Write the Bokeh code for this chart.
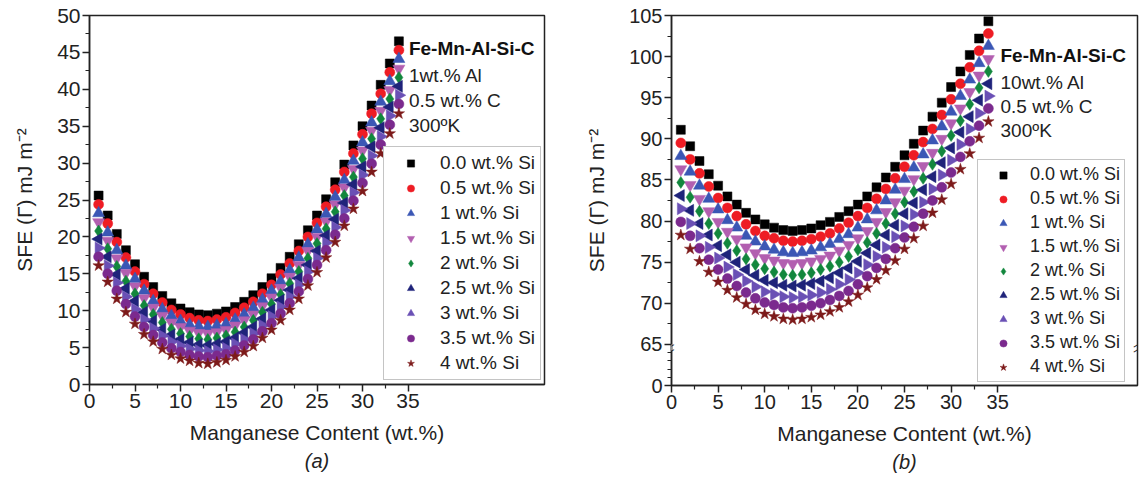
from bokeh.plotting import figure
from bokeh.layouts import row
from bokeh.models import FixedTicker, Range1d, Legend, LegendItem, Label, Title
from bokeh.embed import file_html
from bokeh.resources import INLINE
import math

# ---------------- data ----------------
mn_content = list(range(1, 35))
si_labels = ["0.0 wt.% Si", "0.5 wt.% Si", "1 wt.% Si", "1.5 wt.% Si", "2 wt.% Si",
             "2.5 wt.% Si", "3 wt.% Si", "3.5 wt.% Si", "4 wt.% Si"]
x_ticks = [0, 5, 10, 15, 20, 25, 30, 35]

# (a) 1 wt.% Al
a_si00 = [25.6, 22.9, 20.4, 18.2, 16.3, 14.6, 13.2, 12.0, 11.0, 10.3, 9.8, 9.5, 9.4, 9.6, 9.9, 10.5, 11.2, 12.1, 13.2, 14.4, 15.8, 17.3, 19.0, 20.9, 22.9, 25.1, 27.4, 29.8, 32.4, 35.0, 37.8, 40.6, 43.5, 46.5]
a_si05 = [24.4, 21.8, 19.3, 17.2, 15.3, 13.6, 12.3, 11.1, 10.1, 9.5, 9.0, 8.7, 8.6, 8.8, 9.1, 9.7, 10.4, 11.2, 12.3, 13.5, 14.9, 16.4, 18.1, 20.0, 21.9, 24.1, 26.4, 28.8, 31.3, 33.9, 36.7, 39.4, 42.3, 45.3]
a_si10 = [23.2, 20.6, 18.2, 16.1, 14.3, 12.7, 11.3, 10.2, 9.3, 8.6, 8.1, 7.9, 7.8, 8.0, 8.2, 8.8, 9.5, 10.4, 11.5, 12.7, 14.0, 15.5, 17.2, 19.0, 21.0, 23.1, 25.4, 27.7, 30.3, 32.8, 35.5, 38.3, 41.1, 44.1]
a_si15 = [22.0, 19.5, 17.1, 15.1, 13.3, 11.7, 10.4, 9.3, 8.4, 7.8, 7.3, 7.0, 6.9, 7.1, 7.4, 8.0, 8.7, 9.5, 10.6, 11.8, 13.1, 14.6, 16.2, 18.1, 20.0, 22.1, 24.4, 26.7, 29.2, 31.7, 34.4, 37.1, 39.9, 42.8]
a_si20 = [20.8, 18.4, 16.0, 14.0, 12.3, 10.7, 9.5, 8.4, 7.5, 6.9, 6.5, 6.2, 6.1, 6.3, 6.6, 7.1, 7.8, 8.7, 9.8, 10.9, 12.2, 13.7, 15.3, 17.1, 19.1, 21.1, 23.4, 25.6, 28.1, 30.6, 33.3, 36.0, 38.7, 41.6]
a_si25 = [19.7, 17.3, 14.9, 13.0, 11.3, 9.8, 8.6, 7.5, 6.7, 6.1, 5.7, 5.4, 5.3, 5.5, 5.8, 6.3, 7.0, 7.8, 8.9, 10.1, 11.4, 12.8, 14.4, 16.2, 18.1, 20.2, 22.4, 24.6, 27.1, 29.5, 32.2, 34.8, 37.6, 40.4]
a_si30 = [18.5, 16.1, 13.8, 11.9, 10.2, 8.8, 7.6, 6.6, 5.8, 5.2, 4.8, 4.6, 4.5, 4.7, 4.9, 5.5, 6.1, 6.9, 8.0, 9.2, 10.5, 11.9, 13.5, 15.3, 17.1, 19.2, 21.3, 23.6, 26.0, 28.4, 31.0, 33.6, 36.4, 39.2]
a_si35 = [17.3, 15.0, 12.7, 10.9, 9.2, 7.8, 6.7, 5.7, 4.9, 4.4, 4.0, 3.8, 3.7, 3.9, 4.1, 4.6, 5.3, 6.1, 7.2, 8.3, 9.6, 11.0, 12.6, 14.3, 16.2, 18.2, 20.3, 22.5, 24.9, 27.3, 29.9, 32.5, 35.2, 38.0]
a_si40 = [16.1, 13.9, 11.6, 9.8, 8.2, 6.8, 5.8, 4.8, 4.0, 3.5, 3.2, 2.9, 2.8, 3.0, 3.3, 3.8, 4.4, 5.2, 6.3, 7.4, 8.7, 10.1, 11.6, 13.4, 15.2, 17.2, 19.3, 21.5, 23.8, 26.2, 28.8, 31.3, 34.0, 36.7]

# (b) 10 wt.% Al
b_si00 = [91.1, 89.1, 87.3, 85.7, 84.3, 83.0, 82.0, 81.0, 80.2, 79.6, 79.2, 78.9, 78.8, 78.9, 79.1, 79.5, 79.9, 80.5, 81.2, 82.0, 83.0, 84.1, 85.3, 86.6, 88.0, 89.4, 91.0, 92.7, 94.4, 96.3, 98.2, 100.2, 102.2, 104.3]
b_si05 = [89.5, 87.5, 85.8, 84.2, 82.8, 81.6, 80.6, 79.6, 78.8, 78.2, 77.9, 77.6, 77.5, 77.6, 77.8, 78.1, 78.5, 79.1, 79.8, 80.6, 81.6, 82.7, 83.9, 85.2, 86.6, 88.0, 89.6, 91.2, 92.9, 94.8, 96.7, 98.7, 100.7, 102.8]
b_si10 = [87.9, 86.0, 84.3, 82.7, 81.4, 80.1, 79.2, 78.2, 77.5, 76.9, 76.5, 76.2, 76.1, 76.2, 76.4, 76.8, 77.2, 77.8, 78.4, 79.2, 80.2, 81.3, 82.5, 83.8, 85.1, 86.5, 88.1, 89.8, 91.5, 93.3, 95.2, 97.2, 99.2, 101.3]
b_si15 = [86.3, 84.4, 82.7, 81.2, 79.9, 78.7, 77.8, 76.8, 76.1, 75.5, 75.2, 74.9, 74.8, 74.9, 75.1, 75.4, 75.8, 76.4, 77.1, 77.9, 78.8, 79.9, 81.1, 82.3, 83.7, 85.1, 86.7, 88.3, 90.0, 91.9, 93.7, 95.7, 97.7, 99.7]
b_si20 = [84.7, 82.9, 81.2, 79.7, 78.5, 77.3, 76.4, 75.4, 74.7, 74.2, 73.8, 73.5, 73.4, 73.5, 73.7, 74.1, 74.5, 75.0, 75.7, 76.5, 77.4, 78.5, 79.7, 80.9, 82.3, 83.6, 85.2, 86.9, 88.5, 90.4, 92.2, 94.2, 96.2, 98.2]
b_si25 = [83.1, 81.3, 79.7, 78.3, 77.0, 75.9, 75.0, 74.1, 73.4, 72.8, 72.5, 72.2, 72.1, 72.2, 72.4, 72.7, 73.1, 73.7, 74.3, 75.1, 76.1, 77.1, 78.3, 79.5, 80.9, 82.2, 83.8, 85.4, 87.1, 88.9, 90.8, 92.7, 94.7, 96.7]
b_si30 = [81.5, 79.7, 78.2, 76.8, 75.5, 74.4, 73.5, 72.7, 72.0, 71.4, 71.1, 70.8, 70.7, 70.8, 71.0, 71.3, 71.7, 72.3, 72.9, 73.7, 74.7, 75.7, 76.8, 78.1, 79.4, 80.8, 82.3, 83.9, 85.6, 87.4, 89.3, 91.2, 93.1, 95.2]
b_si35 = [79.9, 78.2, 76.7, 75.3, 74.1, 73.0, 72.1, 71.3, 70.6, 70.1, 69.8, 69.5, 69.4, 69.5, 69.7, 70.0, 70.4, 70.9, 71.5, 72.3, 73.3, 74.3, 75.4, 76.7, 78.0, 79.3, 80.9, 82.5, 84.1, 85.9, 87.8, 89.7, 91.6, 93.7]
b_si40 = [78.3, 76.6, 75.1, 73.8, 72.6, 71.6, 70.7, 69.9, 69.2, 68.7, 68.4, 68.1, 68.0, 68.1, 68.3, 68.6, 69.0, 69.5, 70.2, 71.0, 71.9, 72.9, 74.0, 75.2, 76.6, 77.9, 79.4, 81.0, 82.6, 84.5, 86.3, 88.2, 90.1, 92.1]

a_series = [a_si00, a_si05, a_si10, a_si15, a_si20, a_si25, a_si30, a_si35, a_si40]
b_series = [b_si00, b_si05, b_si10, b_si15, b_si20, b_si25, b_si30, b_si35, b_si40]

a_notes = ["Fe-Mn-Al-Si-C", "1wt.% Al", "0.5 wt.% C", "300ºK"]
b_notes = ["Fe-Mn-Al-Si-C", "10wt.% Al", "0.5 wt.% C", "300ºK"]

# ---------------- style ----------------
FONT = "Liberation Sans"
TXT = "#222222"
colors = ["#000000", "#ee1c24", "#3b57b5", "#b25fb0", "#12873d",
          "#1f237a", "#6a50b5", "#7b2a8e", "#7d1a1a"]
markers = ["square", "circle", "triangle", "inverted_triangle", "diamond",
           "triangle", "triangle", "circle", "star"]
angles = [0, 0, 0, 0, 0, math.pi / 2, -math.pi / 2, 0, 0]
sizes = [9, 10, 12, 12, 12, 12, 12, 10, 12]


def style_axes(p, tick_size):
    for ax in (p.xaxis[0], p.yaxis[0]):
        ax.axis_line_color = "#222222"
        ax.axis_line_width = 1.5
        ax.major_tick_line_color = "#222222"
        ax.major_tick_line_width = 1.5
        ax.minor_tick_line_color = "#222222"
        ax.minor_tick_line_width = 1.2
        ax.major_tick_out = 7
        ax.major_tick_in = 0
        ax.minor_tick_out = 4
        ax.minor_tick_in = 0
        ax.major_label_text_font = FONT
        ax.major_label_text_font_size = tick_size
        ax.major_label_text_color = TXT
        ax.axis_label_text_font = FONT
        ax.axis_label_text_font_size = "21px"
        ax.axis_label_text_font_style = "normal"
        ax.axis_label_text_color = TXT
        ax.major_label_standoff = 2
    p.xaxis[0].axis_label_standoff = 10
    p.yaxis[0].axis_label_standoff = 18
    p.xgrid.visible = False
    p.ygrid.visible = False
    p.outline_line_color = "#222222"
    p.outline_line_width = 1.5


def make_panel(series, y_range, yticks, yminor, label_over, notes, note_x, note_y,
               legend_loc, legend_font, legend_spacing, legend_pad, glyph_w, standoff,
               tag, tick_size, note_size, border_left, frame_w, frame_h, border_right):
    p = figure(frame_width=frame_w, frame_height=frame_h,
               x_range=Range1d(0, 50), y_range=y_range,
               min_border_left=border_left, min_border_right=border_right,
               min_border_top=15, min_border_bottom=20,
               output_backend="svg", toolbar_location=None,
               x_axis_label="Manganese Content (wt.%)",
               y_axis_label="SFE (Γ) mJ m⁻²")
    p.xaxis.ticker = FixedTicker(ticks=x_ticks, minor_ticks=[2.5, 7.5, 12.5, 17.5, 22.5, 27.5, 32.5])
    p.yaxis.ticker = FixedTicker(ticks=yticks, minor_ticks=yminor)
    if label_over:
        p.yaxis.major_label_overrides = label_over
    style_axes(p, tick_size)

    items = []
    for ys, lab, c, m, a, s in zip(series, si_labels, colors, markers, angles, sizes):
        r = p.scatter(mn_content, ys, marker=m, angle=a, size=s,
                      fill_color=c, line_color=c, line_width=0.5)
        items.append(LegendItem(label=lab, renderers=[r]))

    leg = Legend(items=items, location=legend_loc, margin=0,
                 border_line_color="#8a8a8a", border_line_width=1.5,
                 background_fill_color="white", background_fill_alpha=1.0,
                 label_text_font=FONT, label_text_font_size=legend_font,
                 label_text_color=TXT, glyph_width=glyph_w, glyph_height=18,
                 label_height=18, spacing=legend_spacing, padding=legend_pad,
                 label_standoff=standoff)
    p.add_layout(leg)

    for i, (t, yy) in enumerate(zip(notes, note_y)):
        p.add_layout(Label(x=note_x, y=yy, text=t, text_font=FONT,
                           text_font_size=note_size,
                           text_font_style="bold" if i == 0 else "normal",
                           text_color="#111111" if i == 0 else TXT,
                           text_align="left", text_baseline="middle"))

    p.add_layout(Title(text=tag, align="center", text_font=FONT,
                       text_font_size="20px", text_font_style="italic",
                       text_color=TXT, standoff=2), "below")
    return p


pa = make_panel(a_series, Range1d(0, 50), list(range(0, 55, 5)),
                [2.5 + 5 * i for i in range(10)], None,
                a_notes, 35.1, [45.5, 41.9, 38.5, 35.1],
                (294, 4), "19px", 3, 5, 43, 8, "(a)", "21px", "19px",
                89, 455, 369, 36)

pb = make_panel(b_series, Range1d(60, 105), [60] + list(range(65, 110, 5)),
                [61, 62, 63, 64] + [67.5 + 5 * i for i in range(8)], {60: "0"},
                b_notes, 35.3, [100.1, 96.9, 93.9, 91.0],
                (306, 3), "18px", 3, 4, 42, 6, "(b)", "20px", "19px",
                91, 466, 370, 5)

# axis-break marks at 65 on both vertical edges of panel (b)
for bx, xo in ((0, 0), (50, -2)):
    pb.add_layout(Label(x=bx, y=65, text="\u2009", text_font_size="6px",
                        background_fill_color="white", text_align="center",
                        text_baseline="middle", y_offset=-3, x_offset=xo))
    for dy in (-1, -6):
        pb.add_layout(Label(x=bx, y=65, text="–", text_font="DejaVu Sans",
                            text_font_size="12px", text_color="#222222",
                            angle=0.55, text_align="center",
                            text_baseline="middle", y_offset=dy, x_offset=xo))

layout = row(pa, pb)
open("out.html", "w").write(file_html(layout, INLINE))
